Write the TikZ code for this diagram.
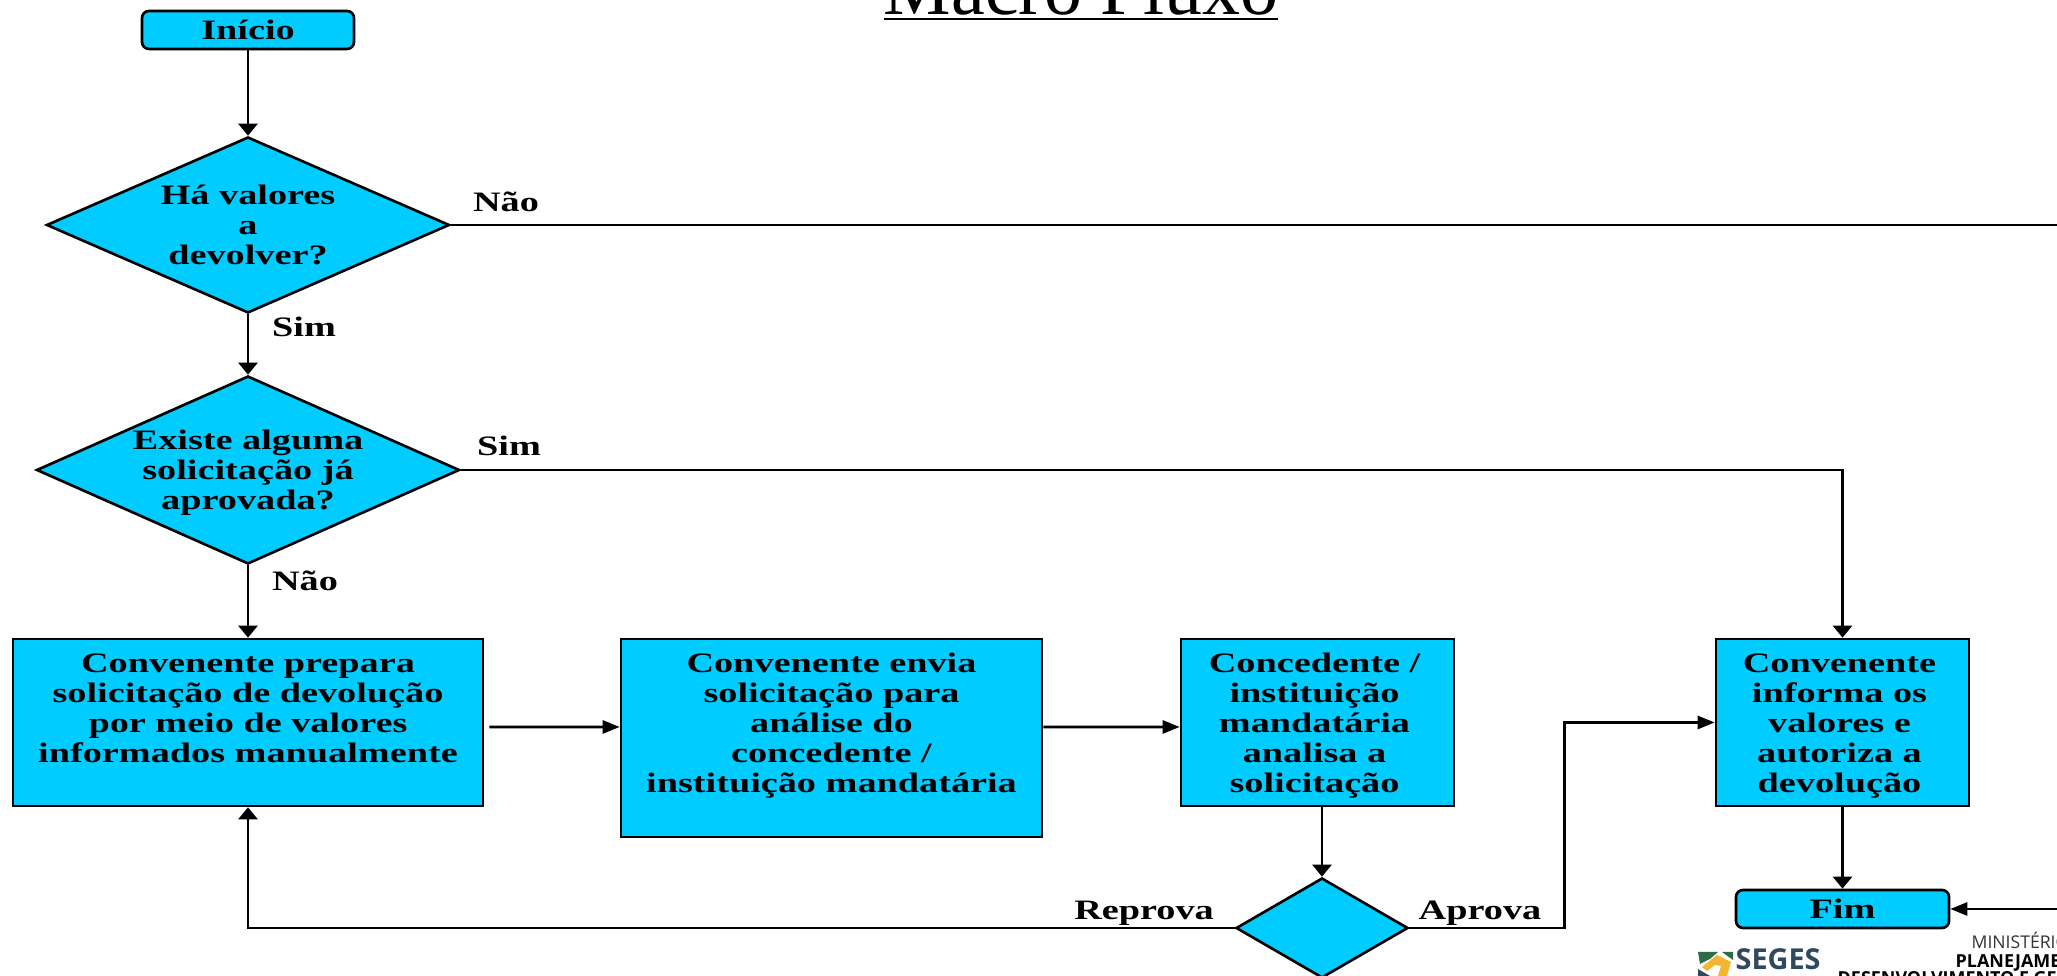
\documentclass[tikz,border=0pt]{standalone}
\usepackage{fontspec}
\usetikzlibrary{shapes.geometric,arrows.meta}
\setmainfont{Liberation Serif}
\newfontfamily\wideserif{Liberation Serif}[FakeStretch=1.36]
\newfontfamily\logosans{Open Sans}
\definecolor{fluxo}{HTML}{00CCFF}
\definecolor{segesblue}{HTML}{2F4A5E}
\definecolor{segesgreen}{HTML}{2F6B45}
\definecolor{segesyellow}{HTML}{F2B632}
\tikzset{
  caixa/.style={rectangle, draw, fill=fluxo, line width=0.75pt, inner sep=0pt},
  inicial/.style={caixa, rounded corners=0.07cm, font=\wideserif\fontsize{8}{8.54}\selectfont\bfseries},
  decisao/.style={diamond, draw, fill=fluxo, line width=0.75pt, inner sep=0pt},
  texto/.style={align=center, inner sep=0pt, font=\wideserif\fontsize{8}{8.54}\selectfont\bfseries},
  linha/.style={line width=0.75pt},
  desce/.style={linha, -{Triangle[length=0.12cm,width=0.19cm]}},
  segue/.style={linha, -{Triangle[length=0.17cm,width=0.13cm]}}
}
\begin{document}
\begin{tikzpicture}
\useasboundingbox (0,0) rectangle (20.57,9.76);
\clip (0,0) rectangle (20.57,9.76);
% title
\node[anchor=base, inner sep=0pt, font=\fontsize{21.6}{24}\selectfont] (titulo) at (10.81,9.61) {Macro Fluxo};
\draw[line width=0.7pt] (8.84,9.57) -- (12.78,9.57);
% start and questions
\node[inicial, minimum width=2.12cm, minimum height=0.38cm] (inicio) at (2.48,9.46) {Início};
\node[decisao, minimum width=4.03cm, minimum height=1.76cm, label={[texto]center:{Há valores\\a\\devolver?}}] (valores) at (2.48,7.51) {};
\node[decisao, minimum width=4.23cm, minimum height=1.88cm, label={[texto,yshift=-0.03cm]center:{Existe alguma\\solicitação já\\aprovada?}}] (aprovada) at (2.48,5.06) {};
% steps
\node[caixa, minimum width=4.70cm, minimum height=1.67cm, label={[texto,yshift=0.14cm]center:{Convenente prepara\\solicitação de devolução\\por meio de valores\\informados manualmente}}] (prepara) at (2.48,2.535) {};
\node[caixa, minimum width=4.21cm, minimum height=1.98cm, label={[texto,yshift=0.12cm]center:{Convenente envia\\solicitação para\\análise do\\concedente /\\instituição mandatária}}] (envia) at (8.315,2.38) {};
\node[caixa, minimum width=2.73cm, minimum height=1.67cm, label={[texto,xshift=-0.03cm,yshift=-0.035cm]center:{Concedente /\\instituição\\mandatária\\analisa a\\solicitação}}] (analisa) at (13.175,2.535) {};
\node[caixa, minimum width=2.53cm, minimum height=1.67cm, label={[texto,xshift=-0.03cm,yshift=-0.04cm]center:{Convenente\\informa os\\valores e\\autoriza a\\devolução}}] (informa) at (18.425,2.535) {};
\node[decisao, minimum width=1.72cm, minimum height=1.0cm] (resposta) at (13.22,0.48) {};
\node[inicial, minimum width=2.13cm, minimum height=0.38cm] (fim) at (18.425,0.67) {Fim};
% answers
\foreach \n/\a/\b/\t in {rotNaoA/5.06/7.74/Não, rotSimA/3.04/6.49/Sim, rotSimB/5.09/5.30/Sim, rotNaoB/3.05/3.95/Não, rotReprova/11.44/0.63/Reprova, rotAprova/14.80/0.63/Aprova}
  \node[texto] (\n) at (\a,\b) {\t};
% free ends
\coordinate (saidaNao) at (20.70,7.51);
\coordinate (entraFim) at (20.70,0.67);
% connectors
\draw[desce] (inicio) -- (valores);
\draw[desce] (valores) -- (aprovada);
\draw[desce] (aprovada) -- (prepara);
\draw[linha] (valores) -- (saidaNao);
\draw[desce] (aprovada) -| (informa);
\draw[segue] ([xshift=0.05cm,yshift=-0.045cm]prepara.east) -- ([yshift=0.11cm]envia.west);
\draw[segue] ([yshift=0.11cm]envia.east) -- ([yshift=-0.045cm]analisa.west);
\draw[desce] (analisa.south -| resposta.north) -- (resposta);
\draw[desce] (resposta) -| (prepara);
\draw[segue] (resposta.east) -- ++(1.55,0) |- (informa);
\draw[desce] (informa) -- (fim);
\draw[segue] (entraFim) -- (fim);
% logo
\fill[segesgreen] (16.98,0.24) -- (17.18,0.24) -- (17.10,0.17) -- (17.00,0.12) -- cycle;
\fill[segesgreen] (17.22,0.24) -- (17.33,0.24) -- (17.33,0.16) -- cycle;
\fill[segesyellow] (17.02,0.09) -- (17.17,0.21) -- (17.31,0.14) -- (17.27,0) -- (17.18,0) -- (17.21,0.10) -- (17.15,0.11) -- (17.07,0.05) -- cycle;
\fill[segesblue] (16.98,0.07) -- (17.10,0) -- (16.98,0) -- cycle;
\node[anchor=base west, inner sep=0pt, text=segesblue, font=\logosans\fontsize{8.2}{9}\selectfont\bfseries] (seges) at (17.35,0.06) {SEGES};
\node[anchor=base west, inner sep=0pt, text=black!80, font=\logosans\fontsize{5}{6}\selectfont] (ministerio) at (19.71,0.27) {MINISTÉRIO};
\node[anchor=base west, inner sep=0pt, font=\logosans\fontsize{5.1}{6}\selectfont\bfseries] (planejamento) at (19.55,0.08) {PLANEJAMENTO};
\node[anchor=base west, inner sep=0pt, font=\logosans\fontsize{5.1}{6}\selectfont\bfseries] (desenvolvimento) at (18.37,-0.09) {DESENVOLVIMENTO E GESTÃO};
\end{tikzpicture}
\end{document}
